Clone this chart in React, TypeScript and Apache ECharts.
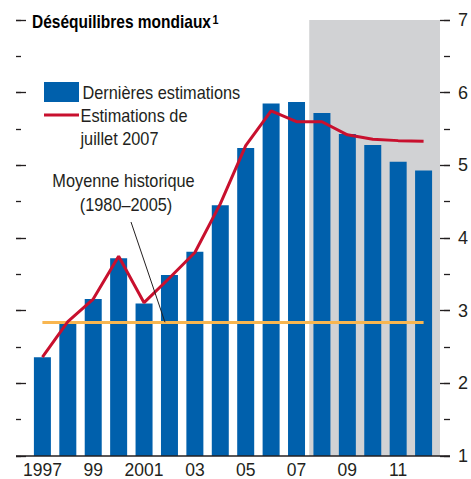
import React, { useEffect, useRef } from "react";
import * as echarts from "echarts";

const years = ["1997","1998","1999","2000","2001","2002","2003","2004","2005","2006","2007","2008","2009","2010","2011","2012"];
const yearLabels: Record<string, string> = { "1997": "1997", "1999": "99", "2001": "2001", "2003": "03", "2005": "05", "2007": "07", "2009": "09", "2011": "11" };
const latestEstimates = [2.36, 2.85, 3.16, 3.72, 3.10, 3.49, 3.81, 4.45, 5.24, 5.85, 5.87, 5.72, 5.43, 5.28, 5.05, 4.93];
const july2007Estimates = [2.36, 2.85, 3.16, 3.75, 3.11, 3.45, 3.80, 4.47, 5.27, 5.75, 5.60, 5.60, 5.42, 5.36, 5.34, 5.33];
const historicalAverage = 2.84;
const projectionStart = "2008";
const yMin = 1;
const yMax = 7;

const FONT = "'Liberation Sans', Arial, sans-serif";
const BLUE = "#0060AC";
const RED = "#C8102E";
const ORANGE = "#F8B650";
const GRAY = "#D1D2D4";
const INK = "#231F20";
const SQ = 0.86;

export default function App() {
  const ref = useRef<HTMLDivElement>(null);
  useEffect(() => {
    if (!ref.current) return;
    const chart = echarts.init(ref.current, null, { renderer: "svg" });
    const gridLeft = 29.7;
    const gridRight = 31.7;
    const rightOffset = 3.7;
    const leftOffset = 13.7;
    const option: any = {
      animation: false,
      grid: { left: gridLeft, right: gridRight, top: 20, bottom: 22, containLabel: false },
      xAxis: {
        type: "category",
        data: years,
        axisLine: { show: false },
        axisTick: { show: false },
        axisLabel: {
          interval: 0,
          formatter: (v: string) => yearLabels[v] ?? "",
          fontFamily: FONT,
          fontSize: 17.5,
          color: INK,
          margin: 5,
        },
      },
      yAxis: [
        {
          type: "value", position: "right", min: yMin, max: yMax, interval: 1, offset: rightOffset,
          axisLine: { show: false }, splitLine: { show: false },
          axisTick: { show: true, length: 10, lineStyle: { color: INK, width: 1.3 } },
          axisLabel: { fontFamily: FONT, fontSize: 18, color: INK, margin: 18 },
        },
        {
          type: "value", position: "right", min: yMin, max: yMax, interval: 0.5, offset: rightOffset + 4,
          axisLine: { show: false }, splitLine: { show: false }, axisLabel: { show: false },
          axisTick: { show: true, length: 6, lineStyle: { color: INK, width: 1.3 } },
        },
        {
          type: "value", position: "left", min: yMin, max: yMax, interval: 1, offset: leftOffset,
          axisLine: { show: false }, splitLine: { show: false }, axisLabel: { show: false },
          axisTick: { show: true, inside: true, length: 10, lineStyle: { color: INK, width: 1.3 } },
        },
        {
          type: "value", position: "left", min: yMin, max: yMax, interval: 0.5, offset: leftOffset,
          axisLine: { show: false }, splitLine: { show: false }, axisLabel: { show: false },
          axisTick: { show: true, inside: true, length: 5, lineStyle: { color: INK, width: 1.3 } },
        },
      ],
      series: [
        {
          name: "Dernières estimations",
          type: "bar",
          data: latestEstimates,
          barWidth: 17,
          itemStyle: { color: BLUE },
          z: 2,
        },
        {
          name: "Estimations de juillet 2007",
          type: "line",
          data: july2007Estimates,
          symbol: "none",
          lineStyle: { color: RED, width: 3 },
          z: 4,
          markLine: {
            silent: true,
            symbol: "none",
            label: { show: false },
            lineStyle: { color: ORANGE, width: 3, type: "solid" },
            data: [[{ coord: [years[0], historicalAverage] }, { coord: [years[years.length - 1], historicalAverage] }]],
            z: 3,
          },
        },
      ],
    };
    chart.setOption(option);

    const px = (cat: string) => chart.convertToPixel({ xAxisIndex: 0 }, cat) as number;
    const py = (v: number) => chart.convertToPixel({ yAxisIndex: 0 }, v) as number;
    const band = px(years[1]) - px(years[0]);
    const startIdx = years.indexOf(projectionStart);
    const shadeLeft = (px(years[startIdx - 1]) + px(years[startIdx])) / 2;
    const plotRightEdge = px(years[years.length - 1]) + band / 2 + rightOffset;
    const plotLeftEdge = px(years[0]) - band / 2 - leftOffset;
    const yTop = py(yMax);
    const yBottom = py(yMin);
    const avgY = py(historicalAverage);

    const txt = (text: string, x: number, y: number, align: string = "left") => ({
      type: "text", z: 10, x, y, scaleX: SQ, scaleY: 1,
      style: { text, fontFamily: FONT, fontSize: 19, fill: INK, textAlign: align, textVerticalAlign: "middle" },
    });

    chart.setOption({
      graphic: [
        {
          type: "rect", z: 0, silent: true,
          shape: { x: shadeLeft, y: yTop, width: plotRightEdge - shadeLeft, height: yBottom - yTop },
          style: { fill: GRAY },
        },
        {
          type: "line", z: 10, silent: true,
          shape: { x1: plotLeftEdge, y1: yBottom, x2: plotRightEdge + 10, y2: yBottom },
          style: { stroke: INK, lineWidth: 1.5 },
        },
        {
          type: "text", z: 10, x: 32, y: 22.5, scaleX: 0.875, scaleY: 1,
          style: {
            text: "Déséquilibres mondiaux",
            fontFamily: FONT, fontWeight: "bold", fontSize: 17.7, fill: "#000", textVerticalAlign: "middle",
          },
        },
        {
          type: "text", z: 10, x: 212.5, y: 19.5, scaleX: 0.9, scaleY: 1,
          style: { text: "1", fontFamily: FONT, fontWeight: "bold", fontSize: 12, fill: "#000", textVerticalAlign: "middle" },
        },
        {
          type: "rect", z: 10,
          shape: { x: 44, y: 82, width: 35, height: 20 },
          style: { fill: BLUE },
        },
        {
          type: "line", z: 10,
          shape: { x1: 44, y1: 115, x2: 79, y2: 115 },
          style: { stroke: RED, lineWidth: 3 },
        },
        txt("Dernières estimations", 82.5, 93),
        txt("Estimations de", 80.5, 115.5),
        txt("juillet 2007", 80.5, 139),
        txt("Moyenne historique", 123.5, 180.5, "center"),
        txt("(1980–2005)", 126, 204.5, "center"),
        {
          type: "line", z: 10, silent: true,
          shape: { x1: 131, y1: 222, x2: 165, y2: avgY },
          style: { stroke: INK, lineWidth: 1 },
        },
      ],
    });

    return () => chart.dispose();
  }, []);
  return <div ref={ref} style={{ position: "absolute", left: 0, top: 0, width: 471, height: 479 }} />;
}
